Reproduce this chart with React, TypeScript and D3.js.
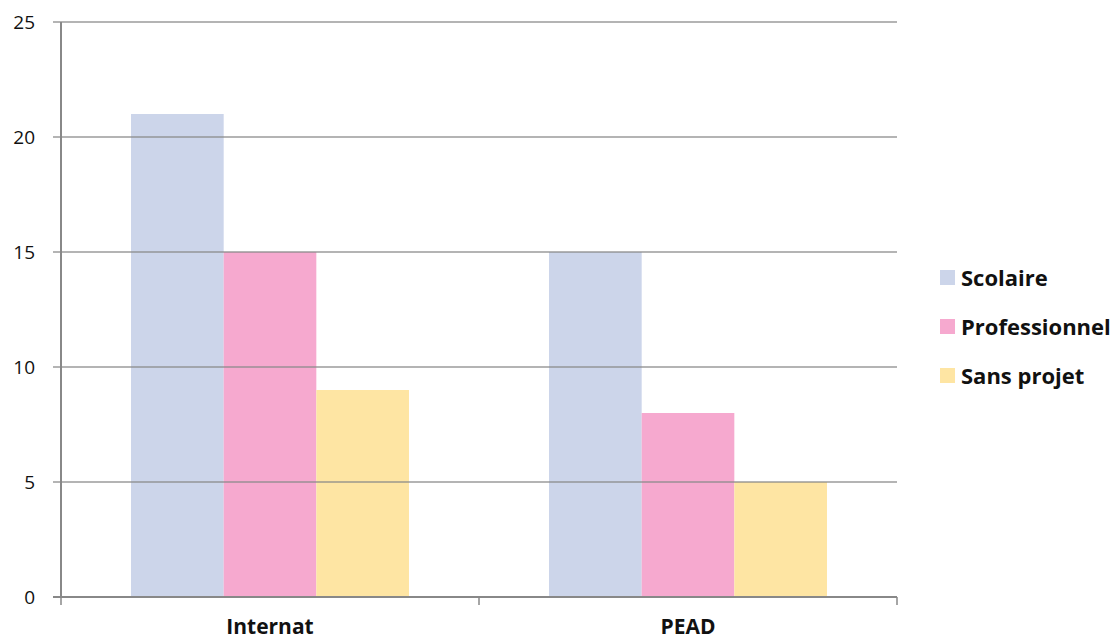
import React from "react";
import * as d3 from "d3";

const categories = ["Internat", "PEAD"];
const seriesNames = ["Scolaire", "Professionnel", "Sans projet"];
const scolaire = [21, 15];
const professionnel = [15, 8];
const sansProjet = [9, 5];
const yTicks = [0, 5, 10, 15, 20, 25];
const colors = ["#ccd5ea", "#f6a9cf", "#fee5a3"];

export default function App() {
  const W = 1119, H = 641;
  const left = 61, right = 897, top = 22, bottom = 597;
  const x0 = d3.scaleBand().domain(categories).range([left, right]).paddingInner(0.335).paddingOuter(0.1675);
  const x = d3.scaleBand().domain(seriesNames).range([0, x0.bandwidth()]);
  const y = d3.scaleLinear().domain([0, 25]).range([bottom, top]);
  const values = [scolaire, professionnel, sansProjet];
  const step = (right - left) / categories.length;
  const font = "'Open Sans', Lato, sans-serif";
  return (
    <svg width={W} height={H} style={{ position: "absolute", left: 0, top: 0 }} fontFamily={font}>
      {values.map((vals, si) =>
        vals.map((v, ci) => (
          <rect key={`${si}-${ci}`} x={(x0(categories[ci]) as number) + (x(seriesNames[si]) as number)}
            y={y(v)} width={x.bandwidth()} height={bottom - y(v)} fill={colors[si]} />
        ))
      )}
      {yTicks.map((t) => (
        <g key={t}>
          <line x1={53} x2={right} y1={y(t)} y2={y(t)} stroke="#888" strokeWidth={t === 0 ? 2 : 1.5} strokeOpacity={t === 0 ? 1 : 0.85} />
          <text x={35} y={y(t)} dy="0.35em" textAnchor="end" fontSize={19} fill="#111">{t}</text>
        </g>
      ))}
      <line x1={left} x2={left} y1={top} y2={bottom} stroke="#888" strokeWidth={2} />
      {[0, 1, 2].map((i) => (
        <line key={i} x1={left + i * step} x2={left + i * step} y1={bottom} y2={605} stroke="#888" strokeWidth={1.5} />
      ))}
      {categories.map((c) => (
        <text key={c} x={(x0(c) as number) + x0.bandwidth() / 2} y={634} textAnchor="middle" fontSize={21} fontWeight="bold" fill="#111">{c}</text>
      ))}
      {seriesNames.map((s, i) => (
        <g key={s} transform={`translate(940, ${278 + i * 49})`}>
          <rect x={0} y={-8} width={15} height={15} fill={colors[i]} />
          <text x={21} y={0} dy="0.35em" fontSize={22} fontWeight="bold" fill="#111">{s}</text>
        </g>
      ))}
    </svg>
  );
}
